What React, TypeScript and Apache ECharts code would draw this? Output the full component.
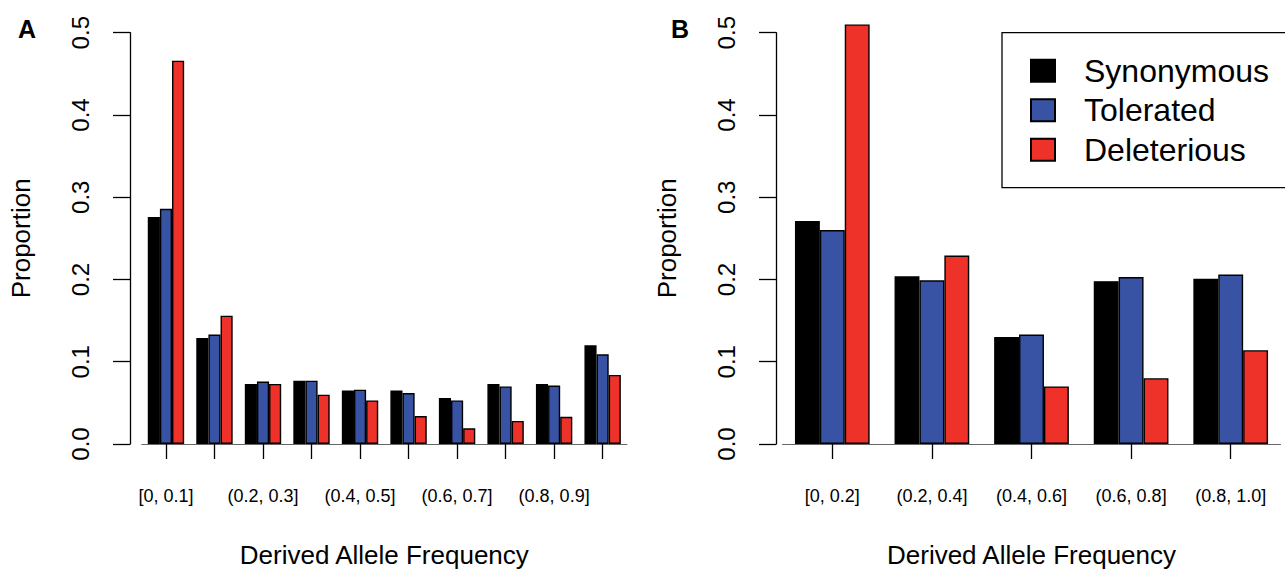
import React, { useEffect, useRef } from "react";
import * as echarts from "echarts";

const seriesNames = ["Synonymous", "Tolerated", "Deleterious"];
const colors = ["#000000", "#3953A4", "#EE3129"];

const catsA = ["[0, 0.1]", "(0.1, 0.2]", "(0.2, 0.3]", "(0.3, 0.4]", "(0.4, 0.5]", "(0.5, 0.6]", "(0.6, 0.7]", "(0.7, 0.8]", "(0.8, 0.9]", "(0.9, 1.0]"];
const synA = [0.276, 0.129, 0.073, 0.077, 0.065, 0.065, 0.056, 0.073, 0.073, 0.120];
const tolA = [0.286, 0.133, 0.076, 0.077, 0.066, 0.062, 0.053, 0.070, 0.071, 0.109];
const delA = [0.466, 0.156, 0.073, 0.060, 0.053, 0.034, 0.019, 0.028, 0.033, 0.084];

const catsB = ["[0, 0.2]", "(0.2, 0.4]", "(0.4, 0.6]", "(0.6, 0.8]", "(0.8, 1.0]"];
const synB = [0.271, 0.204, 0.130, 0.198, 0.201];
const tolB = [0.260, 0.199, 0.133, 0.203, 0.206];
const delB = [0.510, 0.229, 0.070, 0.080, 0.114];

const yTicks = [0, 0.1, 0.2, 0.3, 0.4, 0.5];
const FONT = "'Liberation Sans', Arial, Helvetica, sans-serif";

export default function App() {
  const ref = useRef<HTMLDivElement>(null);
  useEffect(() => {
    if (!ref.current) return;
    const chart = echarts.init(ref.current, null, { renderer: "svg" });
    const dataA = [synA, tolA, delA];
    const dataB = [synB, tolB, delB];

    const makeY = (idx: number, offset: number) => ({
      type: "value",
      gridIndex: idx,
      min: yTicks[0],
      max: yTicks[yTicks.length - 1],
      interval: 0.1,
      offset,
      name: "Proportion",
      nameLocation: "middle",
      nameGap: 96,
      nameTextStyle: { fontFamily: FONT, fontSize: 26, color: "#000" },
      axisLine: { show: true, lineStyle: { color: "#000", width: 1.3 } },
      axisTick: { show: true, length: 17, lineStyle: { color: "#000", width: 1.3 } },
      axisLabel: {
        rotate: 90,
        margin: 38,
        fontFamily: FONT,
        fontSize: 24,
        color: "#000",
        formatter: (v: number) => v.toFixed(1),
      },
      splitLine: { show: false },
    });

    const makeX = (idx: number, cats: string[], interval: number) => ({
      type: "category",
      gridIndex: idx,
      data: cats,
      name: "Derived Allele Frequency",
      nameLocation: "middle",
      nameGap: 98,
      nameTextStyle: { fontFamily: FONT, fontSize: 26, color: "#000" },
      axisLine: { show: true, lineStyle: { color: "#666", width: 1 } },
      axisTick: { show: true, alignWithLabel: true, interval: 0, length: 15, lineStyle: { color: "#000", width: 1.3 } },
      axisLabel: { interval, margin: 43, fontFamily: FONT, fontSize: 18, color: "#000" },
    });

    const series: any[] = [];
    const addSeries = (data: number[][], axis: number) => {
      seriesNames.forEach((name, i) => {
        series.push({
          type: "bar",
          name,
          xAxisIndex: axis,
          yAxisIndex: axis,
          data: data[i],
          barGap: "0%",
          barCategoryGap: "25%",
          clip: false,
          itemStyle: { color: colors[i], borderColor: "#000", borderWidth: 1.4 },
        });
      });
    };
    addSeries(dataA, 0);
    addSeries(dataB, 1);

    chart.setOption({
      animation: false,
      backgroundColor: "#fff",
      title: [
        { text: "A", left: 13, top: 11, textStyle: { fontFamily: FONT, fontSize: 25, fontWeight: "bold", color: "#000" } },
        { text: "B", left: 666, top: 11, textStyle: { fontFamily: FONT, fontSize: 25, fontWeight: "bold", color: "#000" } },
      ],
      legend: {
        data: seriesNames,
        orient: "vertical",
        left: 1002,
        top: 32.7,
        itemWidth: 24,
        itemHeight: 22,
        itemGap: 7.5,
        padding: [22, 40, 22, 28],
        borderColor: "#000",
        borderWidth: 1.3,
        icon: "rect",
        textStyle: { fontFamily: FONT, fontSize: 32, color: "#000", padding: [0, 0, 0, 24] },
        selectedMode: false,
      },
      grid: [
        { left: 141.7, top: 32.7, width: 485.2, height: 416.6 },
        { left: 782.5, top: 32.7, width: 498, height: 416.6 },
      ],
      xAxis: [makeX(0, catsA, 1), makeX(1, catsB, 0)],
      yAxis: [makeY(0, 11.7), makeY(1, 6.5)],
      series,
    });
    return () => chart.dispose();
  }, []);
  return <div ref={ref} style={{ position: "fixed", left: 0, top: 0, width: 1285, height: 573 }} />;
}
